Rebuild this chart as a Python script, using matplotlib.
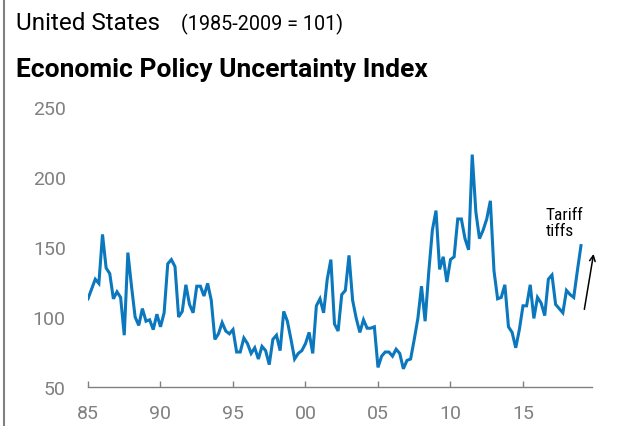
import matplotlib
matplotlib.use("Agg")
import matplotlib.pyplot as plt
import numpy as np

# quarterly index values, 1985Q1 .. 2019Q1
epu = [
    113, 120, 127, 124,   # 1985
    159, 135, 131, 113,   # 1986
    118, 114, 87, 146,    # 1987
    122, 100, 94, 106,    # 1988
    97, 98, 91, 102,      # 1989
    93, 103, 138, 141,    # 1990
    136, 100, 104, 123,   # 1991
    109, 103, 122, 122,   # 1992
    115, 124, 112, 84,    # 1993
    88, 96, 90, 88,       # 1994
    91, 75, 75, 85,       # 1995
    81, 74, 78, 70,       # 1996
    79, 76, 66, 84,       # 1997
    87, 76, 104, 97,      # 1998
    84, 70, 74, 76,       # 1999
    81, 89, 74, 108,      # 2000
    113, 103, 127, 141,   # 2001
    95, 90, 116, 119,     # 2002
    144, 112, 99, 89,     # 2003
    98, 92, 92, 93,       # 2004
    64, 72, 75, 75,       # 2005
    72, 77, 74, 63,       # 2006
    69, 70, 84, 99,       # 2007
    122, 97, 132, 162,    # 2008
    176, 134, 143, 125,   # 2009
    141, 143, 170, 170,   # 2010
    156, 148, 216, 175,   # 2011
    156, 162, 170, 183,   # 2012
    133, 113, 114, 123,   # 2013
    93, 89, 78, 91,       # 2014
    108, 108, 123, 99,    # 2015
    114, 110, 101, 127,   # 2016
    130, 109, 106, 103,   # 2017
    119, 116, 114, 133,   # 2018
    151,                  # 2019
]
years = 1985 + np.arange(len(epu)) / 4.0

tick_years = [1985, 1990, 1995, 2000, 2005, 2010, 2015]
tick_labels = ["85", "90", "95", "00", "05", "10", "15"]
y_ticks = [50, 100, 150, 200, 250]

sans = ["Roboto", "DejaVu Sans"]
cond = ["Roboto Condensed", "Roboto", "DejaVu Sans"]
grey = "#808080"
blue = "#0b77bd"

fig = plt.figure(figsize=(6.2, 4.27), dpi=100)
ax = fig.add_axes([88/620, 39/427, 504/620, 280/427])

ax.plot(years, epu, color=blue, lw=2.2, solid_joinstyle="miter")

ax.set_xlim(1985, 2019.76)
ax.set_ylim(50, 250)
ax.set_xticks(tick_years)
ax.set_xticklabels(tick_labels, family=sans, fontsize=14, color=grey)
ax.set_yticks(y_ticks)
ax.set_yticklabels([str(v) for v in y_ticks], family=sans, fontsize=14, color=grey)
ax.tick_params(axis="x", direction="in", length=4.5, width=1, color=grey, pad=12)
ax.tick_params(axis="y", length=0, pad=16)
for s in ["top", "right", "left"]:
    ax.spines[s].set_visible(False)
ax.spines["bottom"].set_color(grey)
ax.spines["bottom"].set_linewidth(1)
ax.patch.set_visible(False)

# annotation
ax.text(2016.55, 178.5, "Tariff\ntiffs", family=cond, fontsize=12.5, color="black",
        va="top", ha="left", linespacing=1.05)
ax.annotate("", xy=(2019.9, 147), xytext=(2019.2, 103.5),
            arrowprops=dict(arrowstyle="->", color="black", lw=1.1), annotation_clip=False)

# titles
fig.text(16/620, 1 - 30/427, "United States", family=sans, fontsize=17.5, va="baseline")
fig.text(181/620, 1 - 30/427, "(1985-2009 = 101)", family=sans, fontsize=14.2, va="baseline")
fig.text(16/620, 1 - 77/427, "Economic Policy Uncertainty Index", family=sans,
         fontsize=19, fontweight="bold", va="baseline")

# left frame line
fig.add_artist(plt.Line2D([3.5/620, 3.5/620], [0, 1], color=grey, lw=1.5,
                          transform=fig.transFigure))

fig.savefig("out.png", dpi=100)
